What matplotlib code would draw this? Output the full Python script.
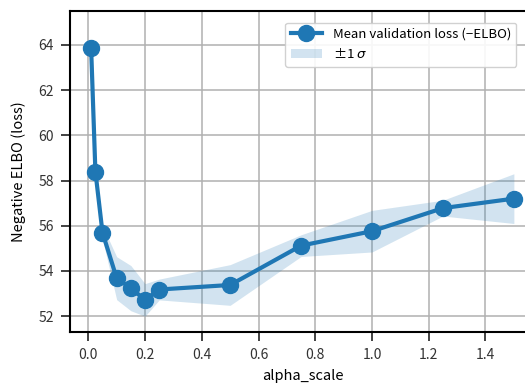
import matplotlib
matplotlib.use("Agg")
import matplotlib.pyplot as plt
import numpy as np

plt.rcParams['font.family'] = ['Noto Sans CJK JP', 'DejaVu Sans']
plt.rcParams['axes.unicode_minus'] = True

# Sweep over the KL weight and resulting validation loss
alpha_scale = [0.01, 0.025, 0.05, 0.1, 0.15, 0.2, 0.25, 0.5, 0.75, 1.0, 1.25, 1.5]
mean_loss = [63.85, 58.40, 55.70, 53.68, 53.24, 52.72, 53.18, 53.38, 55.12, 55.76, 56.78, 57.20]
std_loss = [0.45, 0.30, 0.30, 0.95, 1.00, 0.72, 0.46, 0.90, 0.48, 0.92, 0.35, 1.10]

x = np.array(alpha_scale)
m = np.array(mean_loss)
s = np.array(std_loss)

fig = plt.figure(figsize=(5.25, 3.84), dpi=100)
ax = fig.add_axes([70 / 525, 52 / 384, 465 / 525, 321 / 384])

color = '#1f77b4'
ax.plot(x, m, color=color, linewidth=3, marker='o', markersize=11.5,
        label='Mean validation loss (\u2212ELBO)', zorder=3)
ax.fill_between(x, m - s, m + s, color=color, alpha=0.2, linewidth=0,
                label='\u00b11 $\\sigma$', zorder=2)

ax.set_xlim(-0.0645, 1.5745)
ax.set_ylim(51.3, 65.5)
ax.set_xticks([0.0, 0.2, 0.4, 0.6, 0.8, 1.0, 1.2, 1.4])
ax.set_yticks([52, 54, 56, 58, 60, 62, 64])
ax.grid(True, color='#b0b0b0', linewidth=1.1)
ax.set_axisbelow(True)
for sp in ax.spines.values():
    sp.set_linewidth(1.5)
ax.tick_params(labelsize=10, width=1.3, length=6.5, pad=5, colors='#333333')
ax.set_xlabel('alpha_scale', fontsize=10.5, labelpad=5)
ax.set_ylabel('Negative ELBO (loss)', fontsize=10.5, labelpad=9)

leg = ax.legend(loc='upper right', bbox_to_anchor=(523 / 525, 368 / 384),
                bbox_transform=fig.transFigure, fontsize=9.5, framealpha=0.9,
                edgecolor='#cccccc', fancybox=True, handlelength=2.4)

fig.savefig('out.png', dpi=100)
